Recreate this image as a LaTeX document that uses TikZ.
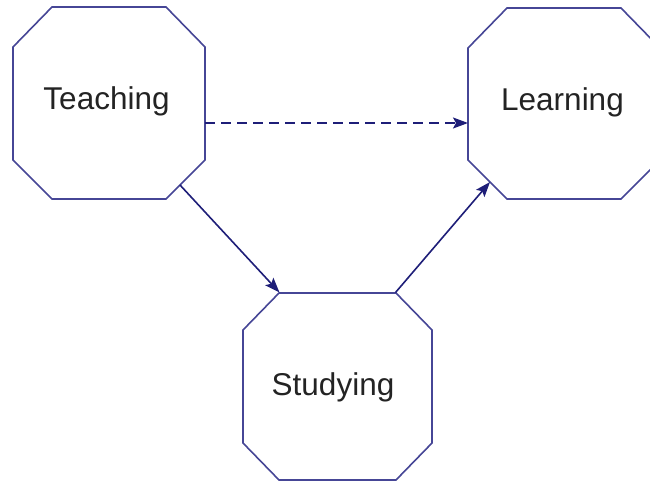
\documentclass[tikz,border=0pt]{standalone}
\usepackage{fontspec}
\setmainfont{Liberation Sans}
\usetikzlibrary{arrows.meta}
\definecolor{octline}{RGB}{70,70,150}
\definecolor{arrowc}{RGB}{30,30,120}
\definecolor{labelc}{RGB}{35,35,35}
\tikzset{
  x=1pt, y=-1pt,
  octo/.style={draw=octline, line width=1.6pt, fill=white, line join=miter},
  lbl/.style={anchor=base, inner sep=0pt, text=labelc, font=\fontsize{31.5}{31.5}\selectfont},
  conn/.style={draw=arrowc, line width=1.6pt, -{Stealth[length=15pt,width=11pt,inset=3pt]}},
  dashconn/.style={conn, dash pattern=on 10pt off 6pt}
}
\begin{document}
\begin{tikzpicture}
\useasboundingbox (0,0) rectangle (650,482);
\begin{scope}
\clip (0,0) rectangle (650,482);
% Teaching octagon
\draw[octo] (52,7) -- (166,7) -- (205,47) -- (205,160) -- (166,199) -- (52,199) -- (13,160) -- (13,47) -- cycle;
% Learning octagon
\draw[octo] (507,8) -- (621,8) -- (660,48) -- (660,160) -- (621,199) -- (507,199) -- (468,160) -- (468,48) -- cycle;
% Studying octagon
\draw[octo] (279,293) -- (396,293) -- (432,330) -- (432,443) -- (396,480) -- (279,480) -- (243,443) -- (243,330) -- cycle;
\end{scope}
\node[lbl] (teach) at (106.5,109) {Teaching};
\node[lbl] (learn) at (562.5,110) {Learning};
\node[lbl] (study) at (333,395) {Studying};
\coordinate (tE) at (205,123);
\coordinate (lW) at (468,123);
\coordinate (tSE) at (180,185);
\coordinate (sNW) at (279.5,292.5);
\coordinate (sNE) at (395.5,292.5);
\coordinate (lSW) at (490,182);
\draw[dashconn] (tE) -- (lW);
\draw[conn] (tSE) -- (sNW);
\draw[conn] (sNE) -- (lSW);
\end{tikzpicture}
\end{document}
